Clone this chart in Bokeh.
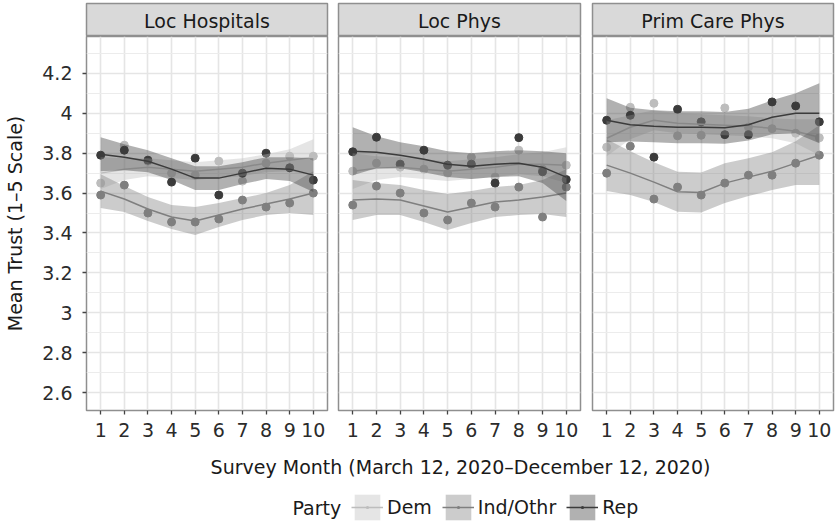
from bokeh.plotting import figure
from bokeh.layouts import column, row
from bokeh.models import (FixedTicker, Label, Legend, LegendItem, ColumnDataSource,
                          Range1d, CustomJSTickFormatter)
from bokeh.embed import file_html
from bokeh.resources import INLINE

# ---------------- data ----------------
months = [1, 2, 3, 4, 5, 6, 7, 8, 9, 10]
panel_names = ["Loc Hospitals", "Loc Phys", "Prim Care Phys"]
parties = ["Dem", "Ind/Othr", "Rep"]
party_colors = ["#bdbdbd", "#7f7f7f", "#3b3b3b"]

y_major = [2.6, 2.8, 3.0, 3.2, 3.4, 3.6, 3.8, 4.0, 4.2]
y_minor = [2.7, 2.9, 3.1, 3.3, 3.5, 3.7, 3.9, 4.1, 4.3]

# Loc Hospitals
hosp_dem_pts = [3.65, 3.84, 3.76, 3.70, 3.69, 3.76, 3.66, 3.75, 3.785, 3.785]
hosp_ind_pts = [3.59, 3.64, 3.50, 3.455, 3.455, 3.47, 3.565, 3.53, 3.55, 3.60]
hosp_rep_pts = [3.79, 3.815, 3.765, 3.655, 3.775, 3.59, 3.70, 3.80, 3.727, 3.665]
hosp_dem_fit = [3.70, 3.72, 3.73, 3.72, 3.71, 3.72, 3.73, 3.75, 3.765, 3.78]
hosp_ind_fit = [3.61, 3.57, 3.52, 3.48, 3.46, 3.49, 3.52, 3.545, 3.57, 3.60]
hosp_rep_fit = [3.795, 3.78, 3.76, 3.72, 3.675, 3.675, 3.70, 3.725, 3.72, 3.69]
hosp_dem_se = [0.08, 0.055, 0.045, 0.045, 0.045, 0.045, 0.045, 0.045, 0.055, 0.09]
hosp_ind_se = [0.085, 0.065, 0.06, 0.06, 0.07, 0.06, 0.055, 0.055, 0.07, 0.11]
hosp_rep_se = [0.085, 0.065, 0.055, 0.055, 0.06, 0.06, 0.055, 0.055, 0.06, 0.085]

# Loc Phys
phys_dem_pts = [3.71, 3.75, 3.73, 3.72, 3.70, 3.78, 3.68, 3.815, 3.72, 3.74]
phys_ind_pts = [3.54, 3.635, 3.60, 3.50, 3.465, 3.55, 3.53, 3.63, 3.48, 3.63]
phys_rep_pts = [3.807, 3.88, 3.745, 3.815, 3.74, 3.745, 3.65, 3.878, 3.707, 3.668]
phys_dem_fit = [3.71, 3.725, 3.73, 3.72, 3.71, 3.72, 3.73, 3.745, 3.745, 3.74]
phys_ind_fit = [3.565, 3.57, 3.565, 3.535, 3.505, 3.53, 3.555, 3.565, 3.58, 3.60]
phys_rep_fit = [3.81, 3.805, 3.79, 3.77, 3.745, 3.735, 3.745, 3.75, 3.73, 3.68]
phys_dem_se = [0.09, 0.06, 0.05, 0.05, 0.05, 0.05, 0.05, 0.05, 0.06, 0.09]
phys_ind_se = [0.10, 0.08, 0.075, 0.08, 0.09, 0.08, 0.075, 0.075, 0.085, 0.12]
phys_rep_se = [0.12, 0.08, 0.065, 0.065, 0.065, 0.065, 0.065, 0.065, 0.08, 0.12]

# Prim Care Phys
pcp_dem_pts = [3.83, 4.03, 4.05, 3.887, 3.89, 4.027, 3.93, 3.923, 3.90, 3.877]
pcp_ind_pts = [3.70, 3.835, 3.57, 3.63, 3.59, 3.65, 3.69, 3.69, 3.75, 3.79]
pcp_rep_pts = [3.965, 3.99, 3.78, 4.02, 3.957, 3.893, 3.893, 4.057, 4.037, 3.957]
pcp_dem_fit = [3.875, 3.93, 3.965, 3.95, 3.945, 3.94, 3.935, 3.925, 3.91, 3.88]
pcp_ind_fit = [3.74, 3.70, 3.655, 3.607, 3.603, 3.65, 3.68, 3.71, 3.75, 3.79]
pcp_rep_fit = [3.965, 3.943, 3.935, 3.93, 3.93, 3.927, 3.943, 3.98, 4.0, 4.0]
pcp_dem_se = [0.09, 0.06, 0.05, 0.05, 0.05, 0.05, 0.05, 0.05, 0.06, 0.09]
pcp_ind_se = [0.13, 0.11, 0.10, 0.10, 0.10, 0.10, 0.095, 0.095, 0.11, 0.15]
pcp_rep_se = [0.11, 0.085, 0.08, 0.08, 0.08, 0.08, 0.08, 0.085, 0.10, 0.15]

panel_data = [
    [(hosp_dem_pts, hosp_dem_fit, hosp_dem_se),
     (hosp_ind_pts, hosp_ind_fit, hosp_ind_se),
     (hosp_rep_pts, hosp_rep_fit, hosp_rep_se)],
    [(phys_dem_pts, phys_dem_fit, phys_dem_se),
     (phys_ind_pts, phys_ind_fit, phys_ind_se),
     (phys_rep_pts, phys_rep_fit, phys_rep_se)],
    [(pcp_dem_pts, pcp_dem_fit, pcp_dem_se),
     (pcp_ind_pts, pcp_ind_fit, pcp_ind_se),
     (pcp_rep_pts, pcp_rep_fit, pcp_rep_se)],
]

# ---------------- style / layout ----------------
FONT = "DejaVu Sans"
TXT = "#1a1a1a"
BORDER = "#8f8f8f"
widths = [332, 254, 250]
lefts = [86, 6, 6]
rights = [5, 6, 3]
STRIP_H = 36      # includes 3px top margin
FRAME_H = 374
BOTTOM_AX = 36
BOTTOM_H = 75

strips, panels = [], []
for i, name in enumerate(panel_names):
    s = figure(width=widths[i], height=STRIP_H, x_range=Range1d(0, 1), y_range=Range1d(0, 1),
               x_axis_location=None, y_axis_location=None, toolbar_location=None,
               output_backend="svg", min_border_left=lefts[i], min_border_right=rights[i],
               min_border_top=3, min_border_bottom=0)
    s.grid.visible = False
    s.background_fill_color = "#d9d9d9"
    s.border_fill_color = "white"
    s.outline_line_color = BORDER
    s.outline_line_width = 1.5
    s.add_layout(Label(x=0.5, y=0.48, text=name, text_align="center", text_baseline="middle",
                       text_font=FONT, text_font_size="19px", text_color=TXT))
    strips.append(s)

    p = figure(width=widths[i], height=FRAME_H + BOTTOM_AX,
               x_range=Range1d(0.4, 10.6), y_range=Range1d(2.51, 4.385),
               y_axis_location="left" if i == 0 else None,
               toolbar_location=None, output_backend="svg",
               min_border_left=lefts[i], min_border_right=rights[i],
               min_border_top=0, min_border_bottom=BOTTOM_AX)
    p.background_fill_color = "white"
    p.border_fill_color = "white"
    p.outline_line_color = BORDER
    p.outline_line_width = 1.5

    p.xgrid.ticker = FixedTicker(ticks=months)
    p.xgrid.grid_line_color = "#e5e5e5"
    p.xgrid.grid_line_width = 1.6
    p.ygrid.ticker = FixedTicker(ticks=y_major, minor_ticks=y_minor)
    p.ygrid.grid_line_color = "#e5e5e5"
    p.ygrid.grid_line_width = 1.6
    p.ygrid.minor_grid_line_color = "#ececec"
    p.ygrid.minor_grid_line_width = 1.2

    axes = list(p.xaxis) + (list(p.yaxis) if i == 0 else [])
    for ax in axes:
        ax.axis_line_color = None
        ax.major_tick_line_color = "#444444"
        ax.major_tick_line_width = 1.3
        ax.major_tick_out = 4
        ax.major_tick_in = 0
        ax.minor_tick_line_color = None
        ax.major_label_text_font = FONT
        ax.major_label_text_font_size = "19px"
        ax.major_label_text_color = "#2b2b2b"
    p.xaxis.ticker = FixedTicker(ticks=months)
    p.xaxis.major_label_standoff = 8
    if i == 0:
        p.yaxis.ticker = FixedTicker(ticks=y_major)
        p.yaxis.formatter = CustomJSTickFormatter(code="return String(Math.round(tick*10)/10);")
        p.yaxis.major_label_standoff = 10
        p.yaxis.axis_label = "Mean Trust (1\u20135 Scale)"
        p.yaxis.axis_label_text_font = FONT
        p.yaxis.axis_label_text_font_size = "19px"
        p.yaxis.axis_label_text_font_style = "normal"
        p.yaxis.axis_label_text_color = TXT
        p.yaxis.axis_label_standoff = 13

    # points first (ggplot draws points under the smooth layer)
    for (pts, fit, se), c in zip(panel_data[i], party_colors):
        p.scatter(months, pts, size=8, color=c)
    for (pts, fit, se), c in zip(panel_data[i], party_colors):
        lo = [f - e for f, e in zip(fit, se)]
        hi = [f + e for f, e in zip(fit, se)]
        p.varea(x=months, y1=lo, y2=hi, fill_color=c, fill_alpha=0.4)
        p.line(months, fit, line_color=c, line_width=1.5)
    panels.append(p)

# ---------------- bottom: x title + legend ----------------
b = figure(width=sum(widths), height=BOTTOM_H, x_range=Range1d(0, 1), y_range=Range1d(0, 1),
           x_axis_location=None, y_axis_location=None, toolbar_location=None,
           output_backend="svg", min_border=0)
b.grid.visible = False
b.outline_line_color = None
b.border_fill_color = "white"
b.background_fill_color = "white"

b.add_layout(Label(x=460, y=55, x_units="screen", y_units="screen",
                   text="Survey Month (March 12, 2020\u2013December 12, 2020)",
                   text_align="center", text_baseline="middle",
                   text_font=FONT, text_font_size="19px", text_color=TXT))
b.add_layout(Label(x=292, y=14, x_units="screen", y_units="screen", text="Party",
                   text_align="left", text_baseline="middle",
                   text_font=FONT, text_font_size="19px", text_color=TXT))

nan = float("nan")
items = []
for party, c in zip(parties, party_colors):
    # placeholder source (NaN: nothing is drawn in the plot area, only the legend key)
    src = ColumnDataSource(dict(x=[nan], y=[nan], y1=[nan], y2=[nan]))
    ra = b.varea(x="x", y1="y1", y2="y2", source=src, fill_color=c, fill_alpha=0.4)
    rl = b.line(x="x", y="y", source=src, line_color=c, line_width=1.5)
    rs = b.scatter(x="x", y="y", source=src, marker="dot", size=8, color=c, line_width=2)
    items.append(LegendItem(label=party, renderers=[ra, rl, rs]))

leg = Legend(items=items, orientation="horizontal", location=(351, -2),
             glyph_width=32, glyph_height=32, label_standoff=4, spacing=10,
             padding=0, margin=0, border_line_color=None, background_fill_alpha=0,
             label_text_font=FONT, label_text_font_size="19px", label_text_color=TXT)
b.add_layout(leg)

layout = column(row(*strips), row(*panels), b)
open("out.html", "w").write(file_html(layout, INLINE))
